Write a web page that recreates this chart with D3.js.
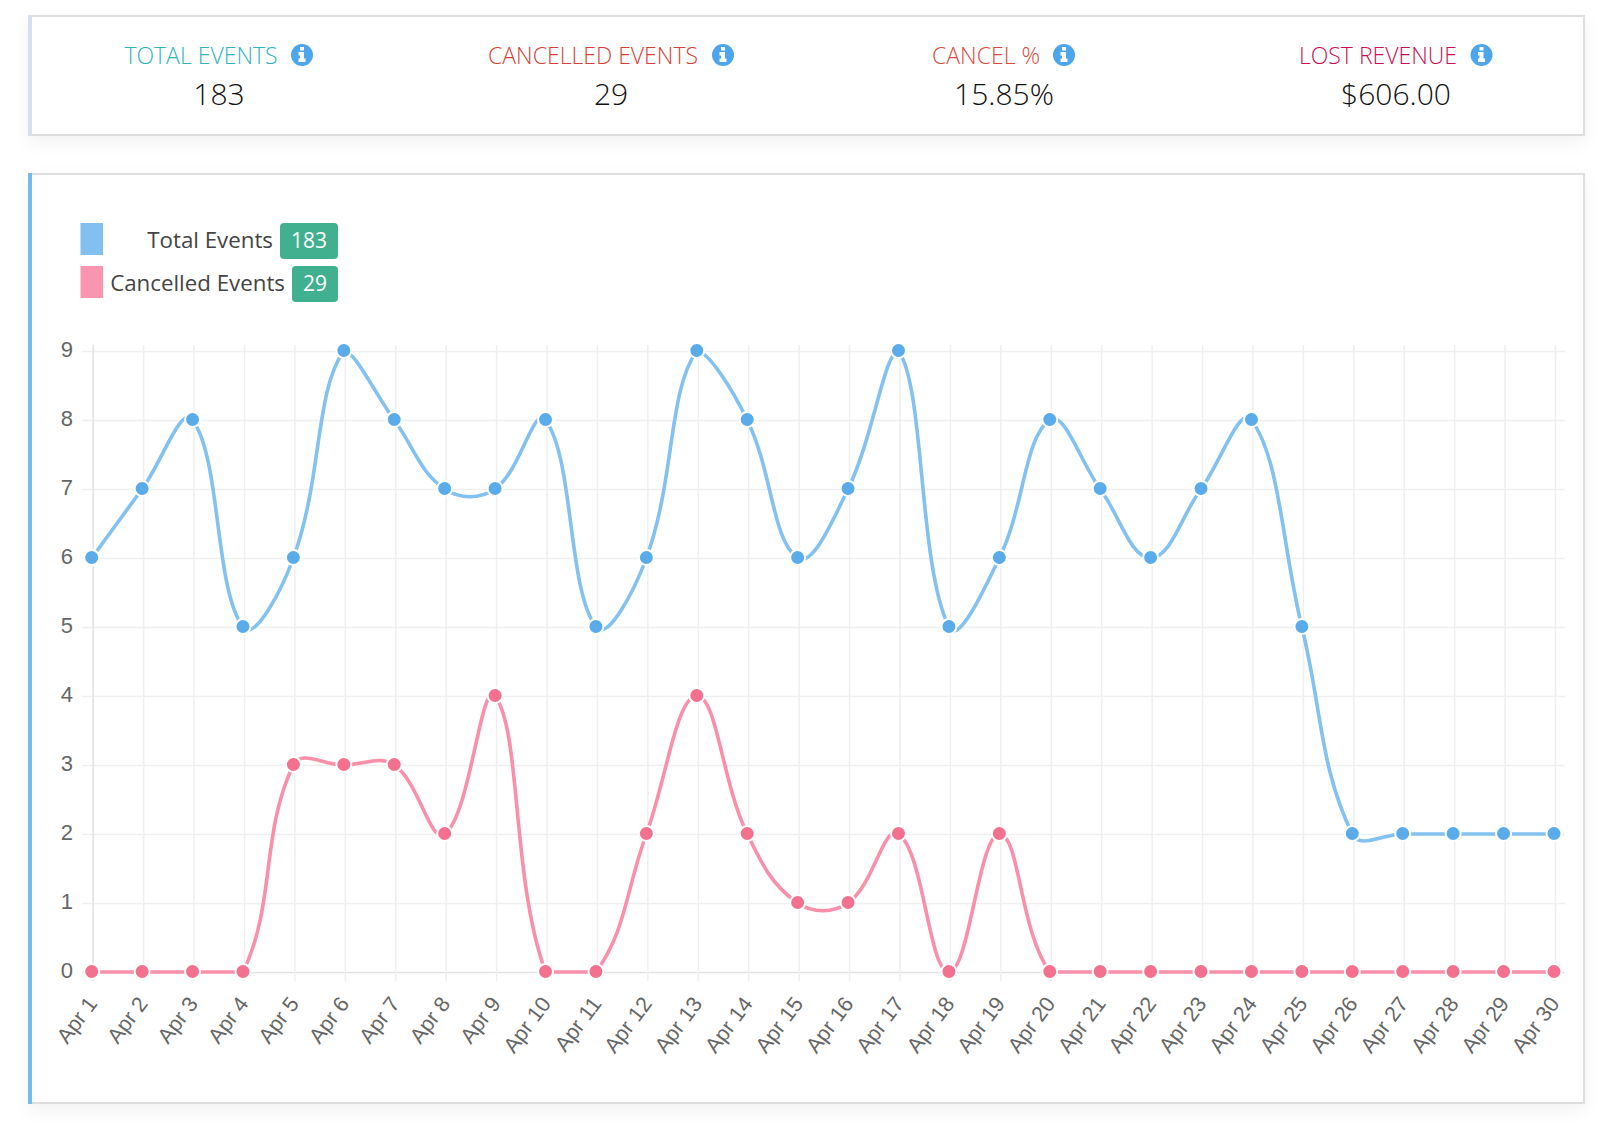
<!DOCTYPE html>
<html>
<head>
<meta charset="utf-8">
<script src="https://d3js.org/d3.v7.min.js"></script>
<style>
    body { margin: 0; background: #fff; }
    svg { display: block; }
    .card { fill: #fff; stroke: #dedede; stroke-width: 2; filter: drop-shadow(0 6px 8px rgba(0,0,0,0.05)); }
    .head { font-family: "Open Sans"; font-weight: 300; font-size: 23px; text-anchor: middle; }
    .value { font-family: "Open Sans"; font-weight: 300; font-size: 30px; fill: #111; text-anchor: middle; }
    .legendText { font-family: "Open Sans"; font-weight: 400; font-size: 22.3px; fill: #444; text-anchor: end; }
    .badgeText { font-family: "Open Sans"; font-size: 21px; fill: #fff; text-anchor: middle; }
    .axis text { font-family: "Liberation Sans"; font-size: 22px; fill: #666; }
    .axis path { display: none; }
    .axis line { stroke: #efefef; stroke-width: 1.5; }
</style>
</head>
<body>
<script>
(function(){

//chart values
var days = ["Apr 1", "Apr 2", "Apr 3", "Apr 4", "Apr 5", "Apr 6", "Apr 7", "Apr 8", "Apr 9", "Apr 10",
    "Apr 11", "Apr 12", "Apr 13", "Apr 14", "Apr 15", "Apr 16", "Apr 17", "Apr 18", "Apr 19", "Apr 20",
    "Apr 21", "Apr 22", "Apr 23", "Apr 24", "Apr 25", "Apr 26", "Apr 27", "Apr 28", "Apr 29", "Apr 30"];
var totalEvents = [6, 7, 8, 5, 6, 9, 8, 7, 7, 8, 5, 6, 9, 8, 6, 7, 9, 5, 6, 8, 7, 6, 7, 8, 5, 2, 2, 2, 2, 2];
var cancelledEvents = [0, 0, 0, 0, 3, 3, 3, 2, 4, 0, 0, 2, 4, 2, 1, 1, 2, 0, 2, 0, 0, 0, 0, 0, 0, 0, 0, 0, 0, 0];
var yTicks = [0, 1, 2, 3, 4, 5, 6, 7, 8, 9];

//summary strip
var summaryLabels = ["TOTAL EVENTS", "CANCELLED EVENTS", "CANCEL %", "LOST REVENUE"];
var summaryValues = ["183", "29", "15.85%", "$606.00"];
var summaryColors = ["#2fb3bf", "#d93f36", "#dc4a3c", "#cc0f55"];
var summaryCenters = [219, 611, 1004, 1396];
var summaryIcons = [302, 723, 1064, 1481.5];

//legend rows
var legendLabels = ["Total Events", "Cancelled Events"];
var legendCounts = ["183", "29"];
var legendColors = ["#82c0f0", "#f995ae"];

var svg = d3.select("body")
    .append("svg")
    .attr("width", 1600)
    .attr("height", 1123);

setCards();
setSummary();
setLegend();
setChart();

//white panels with a coloured left edge
function setCards(){
    svg.append("rect").attr("class", "card")
        .attr("x", 29).attr("y", 16).attr("width", 1555).attr("height", 119);
    svg.append("rect").attr("x", 28).attr("y", 15).attr("width", 4).attr("height", 121)
        .attr("fill", "#d6e0ee");

    svg.append("rect").attr("class", "card")
        .attr("x", 29).attr("y", 174).attr("width", 1555).attr("height", 929);
    svg.append("rect").attr("x", 28).attr("y", 173).attr("width", 4).attr("height", 931)
        .attr("fill", "#72bdec");
};

function setSummary(){
    var cols = svg.selectAll(".summary")
        .data(summaryLabels)
        .enter()
        .append("g")
        .attr("class", "summary");

    cols.append("text")
        .attr("class", "head")
        .attr("x", function(d, i){ return summaryCenters[i] - 18; })
        .attr("y", 64)
        .style("fill", function(d, i){ return summaryColors[i]; })
        .text(function(d){ return d; });

    cols.append("text")
        .attr("class", "value")
        .attr("x", function(d, i){ return summaryCenters[i]; })
        .attr("y", 105)
        .text(function(d, i){ return summaryValues[i]; });

    //info icon, circle with a white i
    var icons = cols.append("g")
        .attr("transform", function(d, i){ return "translate(" + summaryIcons[i] + ",55)"; });
    icons.append("circle").attr("r", 11).attr("fill", "#4da6ec");
    icons.append("path")
        .attr("fill", "#fff")
        .attr("d", "M-2,-8h4v3.5h-4zM-3.5,-3h5.5v6.5h1.5v3.5h-7v-3.5h1.5v-3h-1.5z");
};

function setLegend(){
    var tops = [224, 267];
    var textRight = [273, 285];
    var badgeLeft = [280, 292];

    legendLabels.forEach(function(label, i){
        svg.append("rect")
            .attr("x", 80.5).attr("y", tops[i] - 1).attr("width", 22.5).attr("height", 32)
            .attr("fill", legendColors[i]);
        svg.append("text")
            .attr("class", "legendText")
            .attr("x", textRight[i]).attr("y", tops[i] + 24)
            .text(label);
        svg.append("rect")
            .attr("x", badgeLeft[i]).attr("y", tops[i] - 1)
            .attr("width", 338 - badgeLeft[i]).attr("height", 36)
            .attr("rx", 4)
            .attr("fill", "#41b08f");
        svg.append("text")
            .attr("class", "badgeText")
            .attr("x", (badgeLeft[i] + 338) / 2).attr("y", tops[i] + 24)
            .text(legendCounts[i]);
    });
};

//spline with the control points kept inside the plot area
function cappedSpline(yLimits){
    return function(context){
        var pts = [];
        function cap(v){
            return Math.max(yLimits[1], Math.min(yLimits[0], v));
        };
        return {
            lineStart: function(){ pts = []; },
            point: function(x, y){ pts.push([+x, +y]); },
            lineEnd: function(){
                var t = 0.4, prevCtrl = null;
                for (var i=0; i<pts.length; i++){
                    var p0 = pts[Math.max(i - 1, 0)],
                        p1 = pts[i],
                        p2 = pts[Math.min(i + 1, pts.length - 1)];
                    var d01 = Math.hypot(p1[0] - p0[0], p1[1] - p0[1]),
                        d12 = Math.hypot(p2[0] - p1[0], p2[1] - p1[1]);
                    var s = d01 + d12,
                        fa = t * d01 / s,
                        fb = t * d12 / s;
                    var before = [p1[0] - fa * (p2[0] - p0[0]), cap(p1[1] - fa * (p2[1] - p0[1]))],
                        after = [p1[0] + fb * (p2[0] - p0[0]), cap(p1[1] + fb * (p2[1] - p0[1]))];
                    if (i == 0){
                        context.moveTo(p1[0], p1[1]);
                    } else {
                        context.bezierCurveTo(prevCtrl[0], prevCtrl[1], before[0], before[1], p1[0], p1[1]);
                    };
                    prevCtrl = after;
                };
            }
        };
    };
};

function setChart(){
    var xScale = d3.scalePoint()
        .domain(days)
        .range([91.7, 1554]);

    var yScale = d3.scaleLinear()
        .domain([0, 9])
        .range([972, 351]);

    //grid comes from the axis ticks
    var yAxis = d3.axisLeft(yScale)
        .tickValues(yTicks)
        .tickFormat(d3.format("d"))
        .tickSize(-(1565 - 82))
        .tickPadding(9);
    var yg = svg.append("g")
        .attr("class", "axis")
        .attr("transform", "translate(82,0)")
        .call(yAxis);
    yg.selectAll("text").attr("dy", "0.25em");

    var xAxis = d3.axisBottom(xScale)
        .tickSize(-(981 - 345))
        .tickSizeOuter(0);
    var xg = svg.append("g")
        .attr("class", "axis")
        .attr("transform", "translate(1,981)")
        .call(xAxis);
    xg.selectAll("text")
        .attr("text-anchor", "end")
        .attr("dy", null)
        .attr("y", null)
        .style("font-size", "21.5px")
        .attr("transform", "translate(5,23) rotate(-53)");
    xg.select(".tick line").style("stroke", "#e2e2e2");

    svg.selectAll(".axis line")
        .filter(function(d){ return d === 0; })
        .style("stroke", "#e2e2e2");

    setSeries(totalEvents, "#82c1f0", "#5aabea", xScale, yScale);
    setSeries(cancelledEvents, "#f98fa9", "#f4708f", xScale, yScale);
};

function setSeries(values, lineColor, dotColor, xScale, yScale){
    var line = d3.line()
        .x(function(d, i){ return xScale(days[i]); })
        .y(function(d){ return yScale(d); })
        .curve(cappedSpline(yScale.range()));

    svg.append("path")
        .datum(values)
        .attr("d", line)
        .attr("fill", "none")
        .attr("stroke", lineColor)
        .attr("stroke-width", 3.6);

    svg.selectAll(".dot")
        .data(values, function(d, i){ return lineColor + i; })
        .enter()
        .append("circle")
        .attr("cx", function(d, i){ return xScale(days[i]); })
        .attr("cy", function(d){ return yScale(d) - 0.5; })
        .attr("r", 7.5)
        .attr("fill", dotColor)
        .attr("stroke", "#fff")
        .attr("stroke-width", 2);
};

})();
</script>
</body>
</html>
